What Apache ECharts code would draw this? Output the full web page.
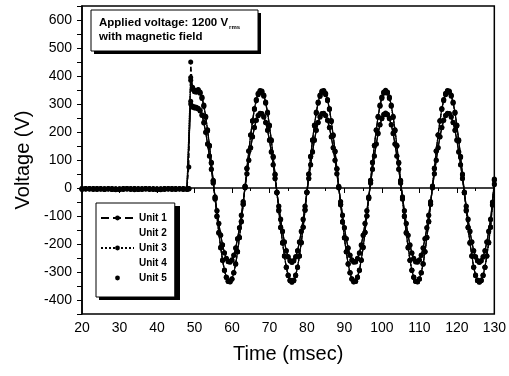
<!DOCTYPE html>
<html>
<head>
<meta charset="utf-8">
<script src="https://cdn.jsdelivr.net/npm/echarts/dist/echarts.min.js"></script>
<style>
  html, body { margin: 0; padding: 0; background: #fff; }
  #chart { width: 509px; height: 376px; }
</style>
</head>
<body>
<div id="chart"></div>
<script>
// time samples (msec)
const time = [
  20, 21, 22, 23, 24, 25, 26, 27, 28, 29,
  30, 31, 32, 33, 34, 35, 36, 37, 38, 39,
  40, 41, 42, 43, 44, 45, 46, 47, 48, 48.5,
  49, 49.5, 50, 50.5, 51, 51.5, 52, 52.5, 53, 53.5,
  54, 54.5, 55, 55.5, 56, 56.5, 57, 57.5, 58, 58.5,
  59, 59.5, 60, 60.5, 61, 61.5, 62, 62.5, 63, 63.5,
  64, 64.5, 65, 65.5, 66, 66.5, 67, 67.5, 68, 68.5,
  69, 69.5, 70, 70.5, 71, 71.5, 72, 72.5, 73, 73.5,
  74, 74.5, 75, 75.5, 76, 76.5, 77, 77.5, 78, 78.5,
  79, 79.5, 80, 80.5, 81, 81.5, 82, 82.5, 83, 83.5,
  84, 84.5, 85, 85.5, 86, 86.5, 87, 87.5, 88, 88.5,
  89, 89.5, 90, 90.5, 91, 91.5, 92, 92.5, 93, 93.5,
  94, 94.5, 95, 95.5, 96, 96.5, 97, 97.5, 98, 98.5,
  99, 99.5, 100, 100.5, 101, 101.5, 102, 102.5, 103, 103.5,
  104, 104.5, 105, 105.5, 106, 106.5, 107, 107.5, 108, 108.5,
  109, 109.5, 110, 110.5, 111, 111.5, 112, 112.5, 113, 113.5,
  114, 114.5, 115, 115.5, 116, 116.5, 117, 117.5, 118, 118.5,
  119, 119.5, 120, 120.5, 121, 121.5, 122, 122.5, 123, 123.5,
  124, 124.5, 125, 125.5, 126, 126.5, 127, 127.5, 128, 128.5,
  129, 129.5, 130
];

// voltages (V) per unit
const unit1 = [
  -3, -4, -2, -3, -5, -4, -3, -2, -4, -6,
  -5, -3, -2, -3, -4, -5, -3, -2, -4, -3,
  -5, -6, -4, -3, -2, -3, -4, -5, -4, 75,
  450, 355, 348, 345, 350, 340, 322, 294, 254, 206,
  151, 90, 26, -38, -101, -160, -213, -259, -295, -320,
  -334, -336, -326, -304, -272, -229, -178, -121, -59, 5,
  69, 131, 188, 239, 282, 314, 336, 346, 344, 330,
  305, 269, 223, 170, 111, 48, -16, -80, -141, -196,
  -244, -284, -313, -331, -337, -331, -313, -284, -244, -196,
  -141, -80, -16, 48, 111, 170, 223, 269, 305, 330,
  344, 346, 336, 314, 282, 239, 188, 131, 69, 5,
  -59, -121, -178, -229, -272, -304, -326, -336, -334, -320,
  -295, -259, -213, -160, -101, -38, 26, 90, 151, 206,
  254, 294, 323, 341, 347, 341, 323, 294, 254, 206,
  151, 90, 26, -38, -101, -160, -213, -259, -295, -320,
  -334, -336, -326, -304, -272, -229, -178, -121, -59, 5,
  69, 131, 188, 239, 282, 314, 336, 346, 344, 330,
  305, 269, 223, 170, 111, 48, -16, -80, -141, -196,
  -244, -284, -313, -331, -337, -331, -313, -284, -244, -196,
  -141, -60, 30
];
const unit2 = [
  -2, -3, -4, -3, -2, -4, -5, -3, -3, -4,
  -6, -4, -2, -3, -3, -5, -4, -2, -3, -4,
  -4, -5, -3, -2, -3, -4, -3, -4, -5, -3,
  310, 292, 290, 288, 285, 278, 262, 235, 200, 158,
  115, 68, 19, -31, -80, -126, -168, -203, -231, -251,
  -262, -263, -256, -239, -213, -180, -141, -96, -48, 2,
  52, 100, 145, 184, 217, 243, 260, 267, 266, 255,
  235, 207, 172, 130, 84, 35, -15, -64, -111, -154,
  -192, -223, -245, -259, -264, -259, -245, -223, -192, -154,
  -111, -64, -15, 35, 84, 130, 172, 207, 235, 255,
  266, 267, 260, 243, 217, 184, 145, 100, 52, 2,
  -48, -96, -141, -180, -213, -239, -256, -263, -262, -251,
  -231, -203, -168, -126, -80, -31, 19, 68, 115, 158,
  196, 227, 249, 263, 268, 263, 249, 227, 196, 158,
  115, 68, 19, -31, -80, -126, -168, -203, -231, -251,
  -262, -263, -256, -239, -213, -180, -141, -96, -48, 2,
  52, 100, 145, 184, 217, 243, 260, 267, 266, 255,
  235, 207, 172, 130, 84, 35, -15, -64, -111, -154,
  -192, -223, -245, -259, -264, -259, -245, -223, -192, -154,
  -111, -50, 15
];
const unit3 = [
  -4, -3, -3, -5, -4, -2, -3, -4, -5, -5,
  -4, -2, -3, -4, -6, -4, -3, -3, -5, -4,
  -3, -4, -5, -4, -3, -2, -4, -3, -3, -4,
  395, 352, 344, 342, 346, 338, 320, 291, 252, 204,
  149, 88, 24, -40, -103, -162, -214, -258, -293, -318,
  -332, -334, -324, -302, -270, -227, -176, -119, -57, 7,
  71, 133, 189, 238, 280, 312, 333, 342, 341, 328,
  303, 267, 221, 168, 109, 46, -18, -82, -142, -197,
  -243, -282, -311, -329, -334, -329, -311, -282, -243, -195,
  -139, -78, -14, 50, 113, 171, 222, 267, 303, 327,
  341, 343, 333, 312, 280, 237, 186, 129, 67, 3,
  -61, -122, -179, -228, -270, -302, -324, -333, -332, -318,
  -293, -257, -211, -158, -99, -36, 28, 92, 152, 206,
  253, 292, 320, 338, 343, 338, 320, 292, 252, 204,
  149, 88, 24, -40, -103, -162, -214, -258, -293, -318,
  -332, -334, -324, -302, -270, -227, -176, -119, -57, 7,
  71, 133, 189, 238, 280, 312, 333, 342, 341, 328,
  303, 267, 221, 168, 109, 46, -18, -82, -142, -197,
  -243, -282, -311, -329, -334, -329, -311, -282, -243, -195,
  -139, -58, 32
];
const unit4 = [
  -3, -2, -4, -4, -3, -3, -5, -4, -2, -3,
  -4, -5, -4, -3, -2, -4, -5, -4, -3, -3,
  -4, -3, -2, -4, -5, -4, -3, -4, -3, -2,
  300, 288, 286, 285, 282, 275, 259, 232, 198, 156,
  113, 66, 17, -33, -82, -128, -169, -204, -232, -252,
  -263, -265, -258, -241, -215, -182, -143, -98, -50, 0,
  50, 98, 143, 182, 215, 241, 258, 265, 264, 253,
  233, 205, 170, 128, 82, 33, -17, -66, -113, -156,
  -194, -225, -247, -261, -266, -261, -247, -225, -194, -156,
  -113, -66, -17, 33, 82, 128, 170, 205, 233, 253,
  264, 265, 258, 241, 215, 182, 143, 98, 50, 0,
  -50, -98, -143, -182, -215, -241, -258, -265, -264, -253,
  -233, -205, -170, -128, -82, -33, 17, 66, 113, 156,
  194, 225, 247, 261, 266, 261, 247, 225, 194, 156,
  113, 66, 17, -33, -82, -128, -170, -205, -233, -253,
  -264, -265, -258, -241, -215, -182, -143, -98, -50, 0,
  50, 98, 143, 182, 215, 241, 258, 265, 264, 253,
  233, 205, 170, 128, 82, 33, -17, -66, -113, -156,
  -194, -225, -247, -261, -266, -261, -247, -225, -194, -156,
  -113, -52, 12
];
const unit5 = [
  -5, -4, -3, -2, -3, -4, -4, -3, -5, -4,
  -3, -3, -4, -5, -3, -2, -4, -4, -3, -5,
  -6, -4, -3, -3, -4, -5, -3, -2, -4, -3,
  385, 360, 350, 347, 352, 343, 325, 296, 256, 208,
  153, 92, 28, -36, -99, -158, -211, -257, -294, -319,
  -333, -335, -325, -303, -271, -228, -177, -120, -58, 6,
  70, 132, 190, 241, 284, 316, 338, 348, 346, 332,
  307, 271, 225, 172, 113, 50, -14, -78, -139, -194,
  -242, -283, -312, -330, -336, -330, -312, -283, -242, -194,
  -139, -78, -14, 50, 113, 172, 225, 271, 307, 332,
  346, 348, 338, 316, 284, 241, 190, 132, 70, 6,
  -58, -120, -177, -228, -271, -303, -325, -335, -333, -319,
  -294, -257, -211, -158, -99, -36, 28, 92, 153, 208,
  256, 296, 325, 343, 349, 343, 325, 296, 256, 208,
  153, 92, 28, -36, -99, -158, -211, -257, -294, -319,
  -333, -335, -325, -303, -271, -228, -177, -120, -58, 6,
  70, 132, 190, 241, 284, 316, 338, 348, 346, 332,
  307, 271, 225, 172, 113, 50, -14, -78, -139, -194,
  -242, -283, -312, -330, -336, -330, -312, -283, -242, -194,
  -139, -62, 28
];

const unitNames = ['Unit 1', 'Unit 2', 'Unit 3', 'Unit 4', 'Unit 5'];
const unitValues = [unit1, unit2, unit3, unit4, unit5];
const lineTypes = ['dashed', 'solid', 'dotted', 'solid', 'solid'];

const font = "'Liberation Sans', Arial, sans-serif";
const chart = echarts.init(document.getElementById('chart'), null, { renderer: 'canvas' });

const series = unitNames.map((name, i) => ({
  name: name,
  type: 'line',
  data: time.map((t, j) => [t, unitValues[i][j]]),
  symbol: 'circle',
  symbolSize: 5,
  color: '#000',
  itemStyle: { color: '#000' },
  lineStyle: { color: '#000', width: 1.2, type: lineTypes[i] },
  emphasis: { disabled: true },
  z: 2 + i
}));

const option = {
  animation: false,
  backgroundColor: '#fff',
  grid: {
    left: 82,
    right: 13,
    top: 6,
    bottom: 62,
    show: true,
    borderColor: '#000',
    borderWidth: 1.5,
    backgroundColor: 'transparent'
  },
  xAxis: {
    type: 'value',
    min: 20,
    max: 130,
    interval: 10,
    name: 'Time (msec)',
    nameLocation: 'middle',
    nameGap: 30,
    nameTextStyle: { fontFamily: font, fontSize: 20, color: '#000' },
    axisLine: { lineStyle: { color: '#000', width: 1.5 } },
    axisTick: { length: 5, lineStyle: { color: '#000', width: 1 } },
    minorTick: { show: true, splitNumber: 2, length: 3, lineStyle: { color: '#000' } },
    axisLabel: { fontFamily: font, fontSize: 14, color: '#000', margin: 7 },
    splitLine: { show: false }
  },
  yAxis: {
    type: 'value',
    min: -450,
    max: 650,
    interval: 50,
    name: 'Voltage (V)',
    nameLocation: 'middle',
    nameGap: 44,
    nameTextStyle: { fontFamily: font, fontSize: 20, color: '#000' },
    axisLine: { lineStyle: { color: '#000', width: 1.5 } },
    axisTick: { length: 5, lineStyle: { color: '#000', width: 1 } },
    axisLabel: {
      fontFamily: font,
      fontSize: 14,
      color: '#000',
      margin: 10,
      formatter: v => (v % 100 === 0 ? String(v) : '')
    },
    splitLine: { show: false }
  },
  legend: {
    orient: 'vertical',
    left: 96,
    top: 203,
    padding: [10, 8, 14, 4],
    itemGap: 5,
    itemWidth: 33,
    itemHeight: 6,
    backgroundColor: '#fff',
    borderColor: '#000',
    borderWidth: 1,
    textStyle: { fontFamily: font, fontSize: 10, fontWeight: 'bold', color: '#000' },
    data: [
      { name: 'Unit 1' },
      { name: 'Unit 2', itemStyle: { opacity: 0 }, lineStyle: { opacity: 0 } },
      { name: 'Unit 3' },
      { name: 'Unit 4', itemStyle: { opacity: 0 }, lineStyle: { opacity: 0 } },
      { name: 'Unit 5', lineStyle: { opacity: 0 } }
    ]
  },
  graphic: [
    // drop shadow behind the legend box
    {
      type: 'rect',
      z: 1,
      shape: { x: 99, y: 206, width: 81, height: 94 },
      style: { fill: '#000' }
    },
    {
      type: 'rect',
      shape: { x: 94, y: 13, width: 167, height: 41 },
      style: { fill: '#000' },
      z: 10
    },
    {
      type: 'rect',
      shape: { x: 91, y: 10, width: 167, height: 41 },
      style: { fill: '#fff', stroke: '#000', lineWidth: 1 },
      z: 11
    },
    {
      type: 'text',
      x: 99,
      y: 16,
      z: 12,
      style: {
        text: '{a|Applied voltage: 1200 V}{s|rms}',
        rich: {
          a: { fontFamily: font, fontSize: 11.5, fontWeight: 'bold', fill: '#000', lineHeight: 14 },
          s: { fontFamily: font, fontSize: 6, fontWeight: 'bold', fill: '#000', lineHeight: 14, verticalAlign: 'bottom', padding: [6, 0, 0, 1] }
        }
      }
    },
    {
      type: 'text',
      x: 99,
      y: 31,
      z: 12,
      style: { text: 'with magnetic field', fontFamily: font, fontSize: 11.5, fontWeight: 'bold', fill: '#000' }
    }
  ],
  series: series
};

chart.setOption(option);
</script>
</body>
</html>
